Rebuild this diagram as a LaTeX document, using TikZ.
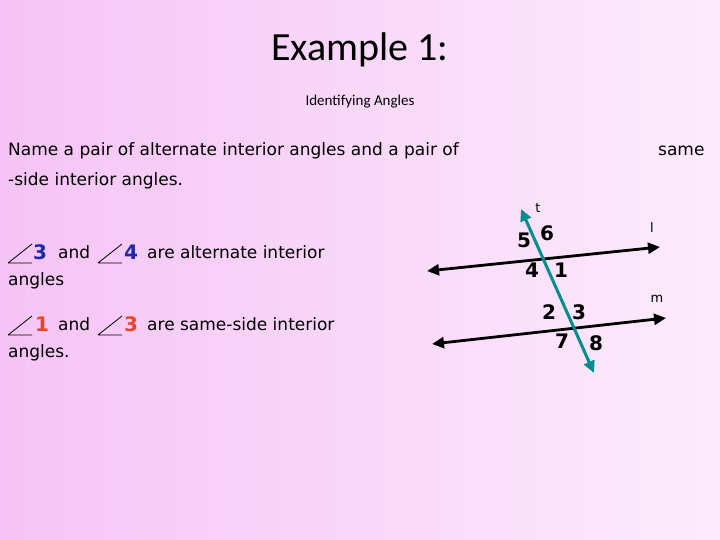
\documentclass[tikz,border=0pt]{standalone}
\usepackage{fontspec}
\setmainfont{DejaVu Sans}
\newfontfamily\titlefont{Carlito}
\usetikzlibrary{arrows.meta}
\definecolor{bgA}{RGB}{246,196,246}
\definecolor{bgB}{RGB}{252,236,252}
\definecolor{teal}{RGB}{0,140,140}
\definecolor{nblue}{RGB}{30,40,170}
\definecolor{nred}{RGB}{230,70,40}
\tikzset{
 txt/.style={anchor=west,inner sep=0pt,font=\fontsize{17}{20}\selectfont},
 num/.style={inner sep=0pt,font=\fontsize{20}{22}\selectfont\bfseries},
 small/.style={inner sep=0pt,font=\fontsize{13}{15}\selectfont},
 line/.style={line width=2.8pt,{Triangle[length=12pt,width=11pt]}-{Triangle[length=12pt,width=11pt]}},
 ang/.style={line width=0.8pt}
}
\begin{document}
\begin{tikzpicture}[x=1pt,y=-1pt]
\useasboundingbox (0,0) rectangle (720,540);
\shade[left color=bgA,right color=bgB] (0,0) rectangle (720,540);
\node[inner sep=0pt,font=\titlefont\fontsize{40}{44}\selectfont] (title) at (360,50) {Example 1:};
\node[inner sep=0pt,font=\titlefont\fontsize{15}{18}\selectfont] (sub) at (360,102) {Identifying Angles};
\node[txt] (q1) at (8,151) {Name a pair of alternate interior angles and a pair of};
\node[txt] (same) at (658,151) {same};
\node[txt] (q2) at (8,181) {-side interior angles.};
% statements
\draw[ang] (8,263)--(32,244) (8,263)--(32,263);
\node[num,text=nblue,anchor=west] (a3) at (33,252) {3};
\node[txt] (and1) at (58,252) {and};
\draw[ang] (98,263)--(122,244) (98,263)--(122,263);
\node[num,text=nblue,anchor=west] (a4) at (124,252) {4};
\node[txt] (r1) at (147,252) {are alternate interior};
\node[txt] (g1) at (8,281) {angles};
\draw[ang] (8,335)--(32,316) (8,335)--(32,335);
\node[num,text=nred,anchor=west] (b1) at (35,324) {1};
\node[txt] (and2) at (58,324) {and};
\draw[ang] (98,335)--(122,316) (98,335)--(122,335);
\node[num,text=nred,anchor=west] (b3) at (124,324) {3};
\node[txt] (r2) at (147,324) {are same-side interior};
\node[txt] (g2) at (8,353) {angles.};
% figure
\coordinate (l1) at (427,271); \coordinate (l2) at (660,247);
\coordinate (m1) at (432,344); \coordinate (m2) at (666,318);
\coordinate (t1) at (521,209); \coordinate (t2) at (594,373);
\draw[line] (l1)--(l2);
\draw[line] (m1)--(m2);
\draw[line,teal,line width=3pt] (t1)--(t2);
\node[num] (n5) at (524,240) {5};
\node[num] (n6) at (547,233) {6};
\node[num] (n4) at (532,270) {4};
\node[num] (n1) at (561,270) {1};
\node[num] (n2) at (549,312) {2};
\node[num] (n3) at (579,312) {3};
\node[num] (n7) at (562,341) {7};
\node[num] (n8) at (596,343) {8};
\node[small] (tl) at (538,208) {t};
\node[small] (ll) at (652,228) {l};
\node[small] (ml) at (657,299) {m};
\end{tikzpicture}
\end{document}
